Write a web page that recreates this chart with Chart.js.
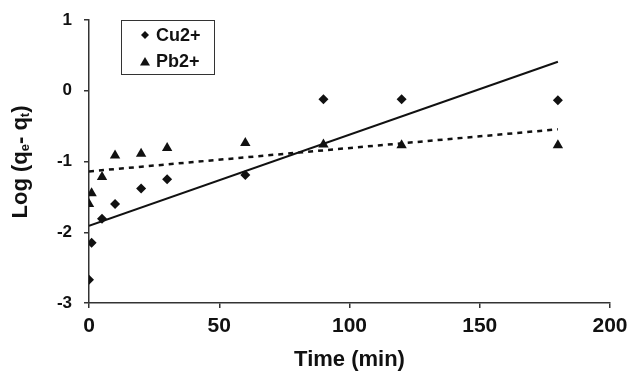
<!DOCTYPE html>
<html>
<head>
<meta charset="utf-8">
<script src="https://cdn.jsdelivr.net/npm/chart.js@4.4.1/dist/chart.umd.min.js"></script>
<style>
  body { margin: 0; background: #fff; }
  #wrap { width: 630px; height: 371px; }
</style>
</head>
<body>
<div id="wrap"><canvas id="myChart" width="630" height="371"></canvas></div>
<script>
// data
const timeMin = [0, 1, 5, 10, 20, 30, 60, 90, 120, 180];
const logCu = [-2.67, -2.15, -1.81, -1.60, -1.38, -1.25, -1.19, -0.12, -0.12, -0.135];
const logPb = [-1.60, -1.45, -1.22, -0.915, -0.89, -0.81, -0.74, -0.76, -0.77, -0.77];
const fitX = [0, 180];
const fitCu = [-1.91, 0.41];
const fitPb = [-1.14, -0.545];
const xTicks = [0, 50, 100, 150, 200];
const yTicks = [-3, -2, -1, 0, 1];
const seriesNames = ['Cu2+', 'Pb2+'];

const FONT = "'Liberation Sans', Arial, Helvetica, sans-serif";
const ink = '#111';

const pts = (xs, ys) => xs.map((x, i) => ({x: x, y: ys[i]}));

// y title with subscripts
const yTitle = {
    id: 'yTitle',
    afterDraw(chart) {
        const ctx = chart.ctx;
        const parts = [
            ['Log (q', 22, 0], ['e', 13, 2], ['- q', 22, 0], ['t', 13, 2], [')', 22, 0]
        ];
        ctx.save();
        ctx.fillStyle = ink;
        ctx.textBaseline = 'alphabetic';
        let total = 0;
        parts.forEach(p => { ctx.font = 'bold ' + p[1] + 'px ' + FONT; total += ctx.measureText(p[0]).width; });
        ctx.translate(27, 162);
        ctx.rotate(-Math.PI / 2);
        let u = -total / 2;
        parts.forEach(p => {
            ctx.font = 'bold ' + p[1] + 'px ' + FONT;
            ctx.fillText(p[0], u, p[2]);
            u += ctx.measureText(p[0]).width;
        });
        ctx.restore();
    }
};

// boxed legend in the upper left of the plot
const boxLegend = {
    id: 'boxLegend',
    afterDraw(chart) {
        const ctx = chart.ctx;
        ctx.save();
        ctx.strokeStyle = '#333';
        ctx.lineWidth = 1;
        ctx.strokeRect(121.5, 20.5, 93, 54);
        ctx.fillStyle = ink;
        // diamond
        ctx.beginPath();
        ctx.moveTo(145, 31); ctx.lineTo(149, 35); ctx.lineTo(145, 39); ctx.lineTo(141, 35);
        ctx.closePath(); ctx.fill();
        // triangle
        ctx.beginPath();
        ctx.moveTo(145, 57); ctx.lineTo(150, 65.5); ctx.lineTo(140, 65.5);
        ctx.closePath(); ctx.fill();
        ctx.font = 'bold 18px ' + FONT;
        ctx.textBaseline = 'alphabetic';
        ctx.fillText(seriesNames[0], 156, 41);
        ctx.fillText(seriesNames[1], 156, 67);
        ctx.restore();
    }
};

new Chart(document.getElementById('myChart'), {
    type: 'scatter',
    data: {
        datasets: [
            {
                label: seriesNames[0],
                data: pts(timeMin, logCu),
                pointStyle: 'rectRot',
                pointRadius: 5,
                backgroundColor: ink,
                borderColor: ink,
                borderWidth: 0
            },
            {
                label: seriesNames[1],
                data: pts(timeMin, logPb),
                pointStyle: 'triangle',
                pointRadius: 6,
                backgroundColor: ink,
                borderColor: ink,
                borderWidth: 0
            },
            {
                label: 'Cu fit',
                data: pts(fitX, fitCu),
                showLine: true,
                pointRadius: 0,
                borderColor: ink,
                borderWidth: 2
            },
            {
                label: 'Pb fit',
                data: pts(fitX, fitPb),
                showLine: true,
                pointRadius: 0,
                borderColor: ink,
                borderWidth: 2.5,
                borderDash: [5, 5]
            }
        ]
    },
    options: {
        responsive: false,
        animation: false,
        layout: {padding: {left: 0, right: 20, top: 20, bottom: 0}},
        plugins: {legend: {display: false}, tooltip: {enabled: false}},
        scales: {
            x: {
                type: 'linear',
                min: 0, max: 200,
                afterFit: s => { s.height = 68; s.paddingLeft = 0; s.paddingRight = 0; },
                afterBuildTicks: s => { s.ticks = xTicks.map(v => ({value: v})); },
                border: {display: true, color: '#333', width: 1.5},
                grid: {drawOnChartArea: false, drawTicks: true, tickLength: 5, color: '#333', lineWidth: 1.5},
                ticks: {color: ink, padding: 6, maxRotation: 0, font: {family: FONT, size: 21, weight: 'bold'}},
                title: {
                    display: true, text: 'Time (min)', color: ink,
                    padding: {top: 0, bottom: 0},
                    font: {family: FONT, size: 22, weight: 'bold', lineHeight: 1}
                }
            },
            y: {
                type: 'linear',
                min: -3, max: 1,
                afterFit: s => { s.width = 89; s.paddingTop = 0; s.paddingBottom = 0; },
                afterBuildTicks: s => { s.ticks = yTicks.map(v => ({value: v})); },
                border: {display: true, color: '#333', width: 1.5},
                grid: {drawOnChartArea: false, drawTicks: true, tickLength: 5, color: '#333', lineWidth: 1.5},
                ticks: {color: ink, padding: 12, font: {family: FONT, size: 17, weight: 'bold'}}
            }
        }
    },
    plugins: [yTitle, boxLegend]
});
</script>
</body>
</html>
